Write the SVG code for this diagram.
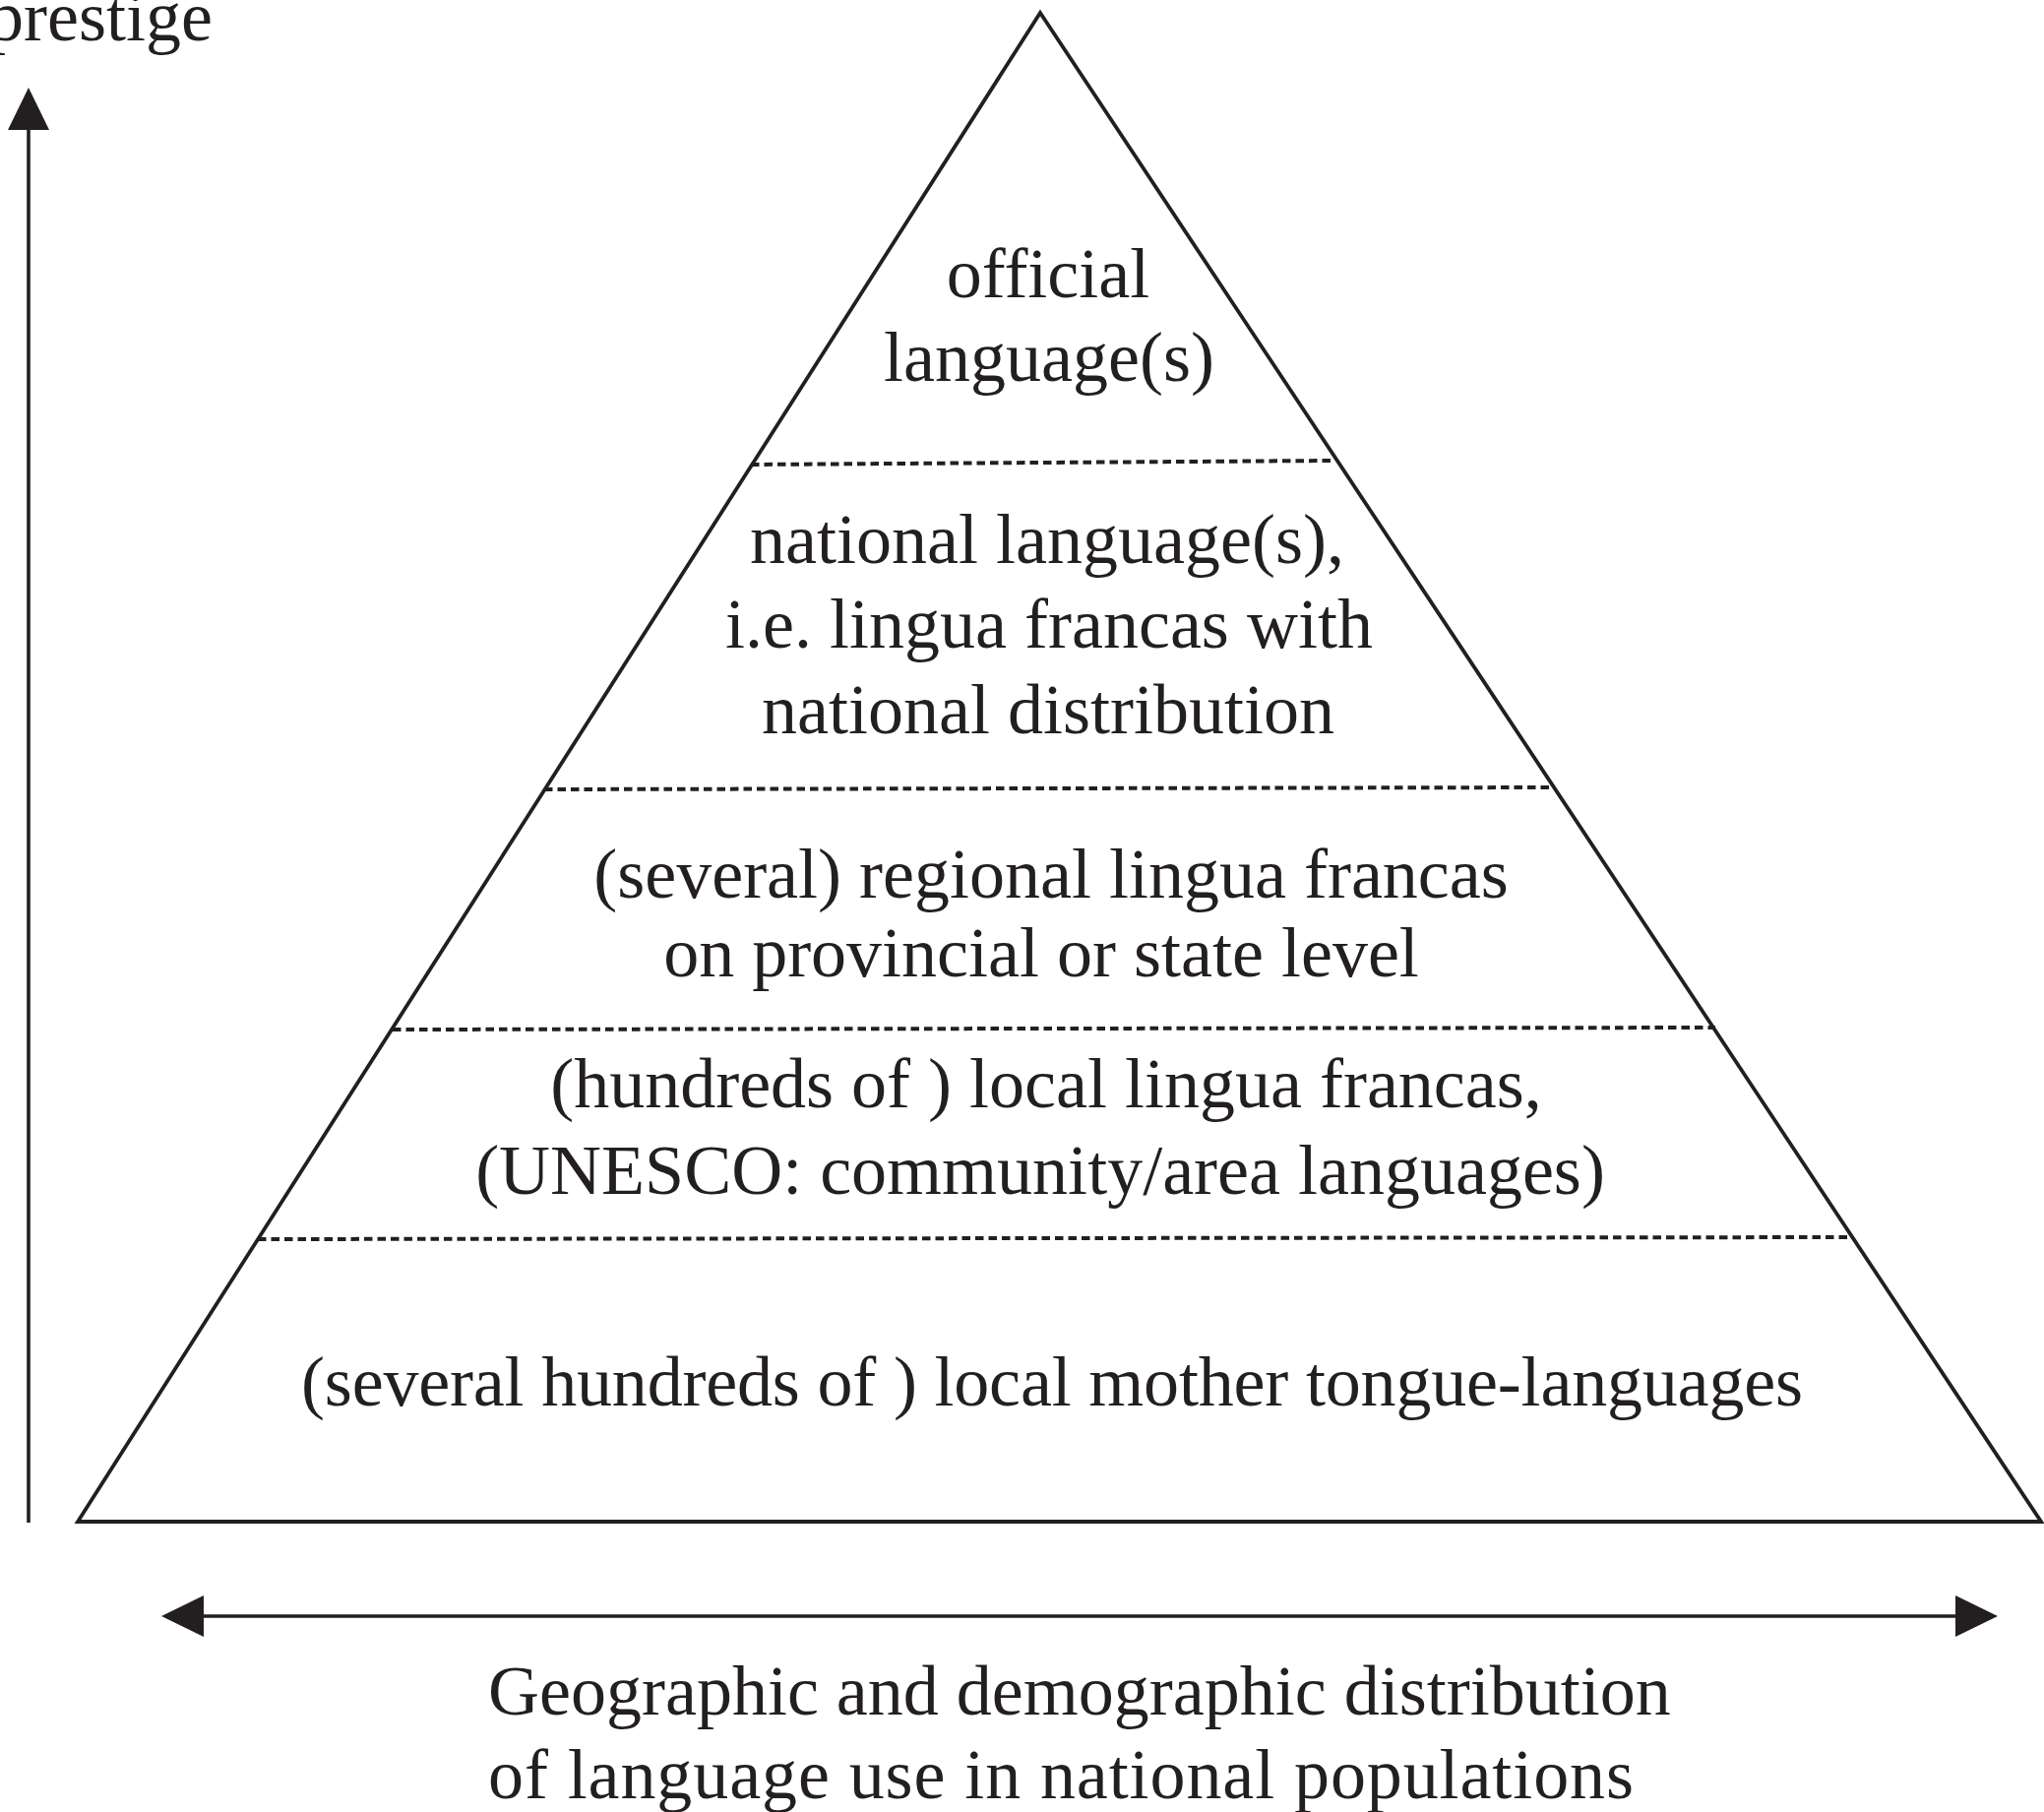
<svg xmlns="http://www.w3.org/2000/svg" width="2077" height="1841" viewBox="0 0 2077 1841">
<style>
.t{font-family:"Liberation Serif","Times New Roman",serif;font-size:72px;fill:#231f20;text-anchor:middle}
.ts{font-family:"Liberation Serif","Times New Roman",serif;font-size:72px;fill:#231f20}
.edge{fill:none;stroke:#231f20;stroke-width:3.8;stroke-linejoin:miter}
.dash{fill:none;stroke:#231f20;stroke-width:4;stroke-dasharray:8.5 5}
.axis{fill:none;stroke:#231f20;stroke-width:3.6}
</style>
<defs>
<marker id="ah" markerUnits="userSpaceOnUse" markerWidth="44" markerHeight="44" viewBox="0 0 44 44" refX="1" refY="22" orient="auto-start-reverse">
<path d="M0,1 L43,22 L0,43 z" fill="#231f20"/>
</marker>
</defs>
<rect width="2077" height="1841" fill="#ffffff"/>
<g id="pyramid">
<polygon class="edge" points="1057,13 2074,1546 79,1546"/>
<line class="dash" x1="763" y1="472" x2="1352" y2="468"/>
<line class="dash" x1="553" y1="802" x2="1580" y2="800"/>
<line class="dash" x1="399" y1="1046" x2="1743" y2="1044"/>
<line class="dash" x1="262" y1="1259" x2="1881" y2="1257"/>
</g>
<g id="tier-official">
<text class="t" x="1065" y="302">official</text>
<text class="t" x="1066" y="387">language(s)</text>
</g>
<g id="tier-national">
<text class="t" x="1064" y="572">national language(s),</text>
<text class="t" x="1066" y="658">i.e. lingua francas with</text>
<text class="t" x="1065" y="745">national distribution</text>
</g>
<g id="tier-regional">
<text class="t" x="1068" y="912">(several) regional lingua francas</text>
<text class="t" x="1058" y="992">on provincial or state level</text>
</g>
<g id="tier-local">
<text class="t" x="1063" y="1125">(hundreds of ) local lingua francas,</text>
<text class="t" x="1057" y="1213">(UNESCO: community/area languages)</text>
</g>
<g id="tier-mother">
<text class="t" x="1069" y="1428" textLength="1526" lengthAdjust="spacing">(several hundreds of ) local mother tongue-languages</text>
</g>
<g id="connectors">
<line class="axis" x1="29" y1="1547" x2="29" y2="131" marker-end="url(#ah)"/>
<line class="axis" x1="206" y1="1642" x2="1988" y2="1642" marker-start="url(#ah)" marker-end="url(#ah)"/>
</g>
<g id="label-prestige">
<text class="ts" x="216" y="41" text-anchor="end">prestige</text>
</g>
<g id="label-distribution">
<text class="ts" x="496" y="1742">Geographic and demographic distribution</text>
<text class="ts" x="496" y="1827" textLength="1164" lengthAdjust="spacing">of language use in national populations</text>
</g>
</svg>
